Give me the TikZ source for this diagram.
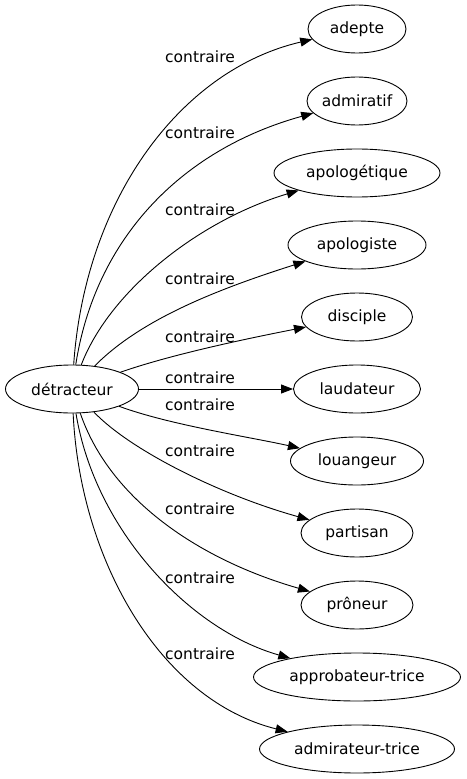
\documentclass[tikz,border=0pt]{standalone}
\usepackage{fontspec}
\setmainfont{DejaVu Sans}
\usetikzlibrary{shapes.geometric,arrows.meta}
\begin{document}
\begin{tikzpicture}[x=1pt,y=-1pt,
  every node/.style={font=\fontsize{15.5}{18}\selectfont},
  term/.style={draw,ellipse,line width=0.9pt,minimum height=48pt,inner sep=0pt},
  rel/.style={draw,line width=0.9pt,-{Triangle[length=12pt,width=9pt]}},
  lab/.style={anchor=base,inner sep=0pt}]
\useasboundingbox (0,0) rectangle (466,779);
\node[term,minimum width=133pt] (s) at (72,389) {détracteur};
\node[term,minimum width=98pt]  (t1)  at (357,29)  {adepte};
\node[term,minimum width=100pt] (t2)  at (357,101) {admiratif};
\node[term,minimum width=166pt] (t3)  at (357,173) {apologétique};
\node[term,minimum width=138pt] (t4)  at (357,245) {apologiste};
\node[term,minimum width=111pt] (t5)  at (357,317) {disciple};
\node[term,minimum width=127pt] (t6)  at (357,389) {laudateur};
\node[term,minimum width=133pt] (t7)  at (357,461) {louangeur};
\node[term,minimum width=112pt] (t8)  at (357,533) {partisan};
\node[term,minimum width=112pt] (t9)  at (357,605) {prôneur};
\node[term,minimum width=207pt] (t10) at (357,677) {approbateur-trice};
\node[term,minimum width=195pt] (t11) at (357,749) {admirateur-trice};

\draw[rel] (s) .. controls (85,200) and (180,70) .. (t1);
\draw[rel] (s) .. controls (95,240) and (180,150) .. (t2);
\draw[rel] (s) .. controls (110,290) and (200,220) .. (t3);
\draw[rel] (s) .. controls (140,320) and (215,290) .. (t4);
\draw[rel] (s) .. controls (170,355) and (240,340) .. (t5);
\draw[rel] (s) -- (t6);
\draw[rel] (s) .. controls (170,425) and (250,437) .. (t7);
\draw[rel] (s) .. controls (130,450) and (220,495) .. (t8);
\draw[rel] (s) .. controls (110,500) and (200,560) .. (t9);
\draw[rel] (s) .. controls (95,530) and (190,630) .. (t10);
\draw[rel] (s) .. controls (80,560) and (160,700) .. (t11);

\node[lab] (l1)  at (200,62)  {contraire};
\node[lab] (l2)  at (200,138) {contraire};
\node[lab] (l3)  at (200,215) {contraire};
\node[lab] (l4)  at (200,284) {contraire};
\node[lab] (l5)  at (200,342) {contraire};
\node[lab] (l6)  at (200,383) {contraire};
\node[lab] (l7)  at (200,410) {contraire};
\node[lab] (l8)  at (200,456) {contraire};
\node[lab] (l9)  at (200,514) {contraire};
\node[lab] (l10) at (200,583) {contraire};
\node[lab] (l11) at (200,659) {contraire};
\end{tikzpicture}
\end{document}
